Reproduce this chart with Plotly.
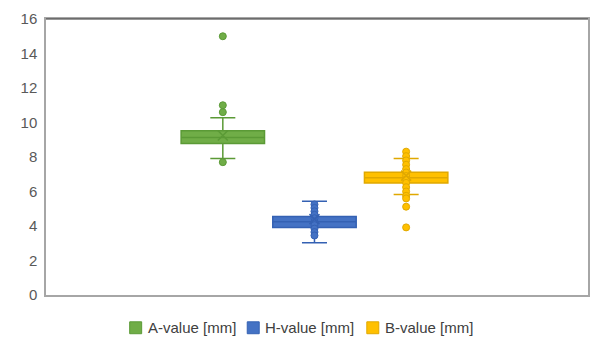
import plotly.graph_objects as go

# ---- data ----
series_names = ["A-value [mm]", "H-value [mm]", "B-value [mm]"]
positions = [0, 1, 2]
q1_vals = [8.78, 3.92, 6.50]
median_vals = [9.13, 4.24, 6.80]
q3_vals = [9.52, 4.55, 7.12]
lower_whisker = [7.92, 3.03, 5.83]
upper_whisker = [10.28, 5.43, 7.92]
mean_vals = [9.25, 4.40, 6.92]
points_a = [15.0, 11.0, 10.6, 7.7]
points_h = [5.25, 5.05, 4.85, 4.65, 4.45, 4.25, 4.05, 3.85, 3.65, 3.45]
points_b = [8.31, 8.05, 7.8, 7.55, 7.3, 7.1, 6.9, 6.7, 6.5, 6.25, 6.0, 5.75, 5.6, 5.12, 3.92]
y_ticks = [0, 2, 4, 6, 8, 10, 12, 14, 16]

fills = ["#70AD47", "#4472C4", "#FFC000"]
lines = ["#5B9A36", "#3461B3", "#E0A800"]
points_all = [points_a, points_h, points_b]

fig = go.Figure()
for i in range(3):
    fig.add_trace(go.Box(
        x=[positions[i]], q1=[q1_vals[i]], median=[median_vals[i]], q3=[q3_vals[i]],
        lowerfence=[lower_whisker[i]], upperfence=[upper_whisker[i]],
        fillcolor=fills[i], line=dict(color=lines[i], width=1.5),
        width=0.91, whiskerwidth=0.3, boxpoints=False, showlegend=False,
        hoverinfo="skip"))
    fig.add_trace(go.Scatter(
        x=[positions[i]] * len(points_all[i]), y=points_all[i], mode="markers",
        marker=dict(size=7, color=fills[i], line=dict(color=lines[i], width=1)),
        showlegend=False, hoverinfo="skip"))
    fig.add_trace(go.Scatter(
        x=[positions[i]], y=[mean_vals[i]], mode="markers",
        marker=dict(symbol="x-thin", size=10, line=dict(color=lines[i], width=1.5)),
        showlegend=False, hoverinfo="skip"))

# legend drawn as squares + text below the plot area (paper coordinates)
legend_sq_left = [0.1544, 0.3713, 0.5919]
legend_sq_w = 0.0221
legend_y = -0.1187
legend_sq_h = 0.0216
for i in range(3):
    fig.add_shape(type="rect", xref="paper", yref="paper",
                  x0=legend_sq_left[i], x1=legend_sq_left[i] + legend_sq_w,
                  y0=legend_y - legend_sq_h, y1=legend_y + legend_sq_h,
                  fillcolor=fills[i], line=dict(color=lines[i], width=1))
    fig.add_annotation(xref="paper", yref="paper",
                       x=legend_sq_left[i] + legend_sq_w + 0.0074, y=legend_y,
                       text=series_names[i], showarrow=False,
                       xanchor="left", yanchor="middle",
                       font=dict(size=15, color="#404040"))

fig.update_layout(
    width=600, height=360,
    margin=dict(l=46, r=10, t=17, b=65),
    paper_bgcolor="white", plot_bgcolor="white",
    font=dict(family="Liberation Sans, Arial, sans-serif", size=15, color="#595959"),
    showlegend=False,
    xaxis=dict(range=[-1.929, 3.984], showticklabels=False, showgrid=False,
               zeroline=False, showline=True, linecolor="#A6A6A6", linewidth=1.5,
               mirror=True, ticks=""),
    yaxis=dict(range=[0, 16], tickvals=y_ticks, showgrid=False, zeroline=False,
               showline=True, linecolor="#A6A6A6", linewidth=1.5, mirror=True,
               ticks="", ticklabelstandoff=4),
)
fig.add_shape(type="line", xref="paper", yref="paper", x0=0, x1=1, y0=1, y1=1,
              line=dict(color="#333333", width=1.2))

fig.write_html("out.html", config={"displayModeBar": False},
               post_script="document.body.style.margin='0';")
